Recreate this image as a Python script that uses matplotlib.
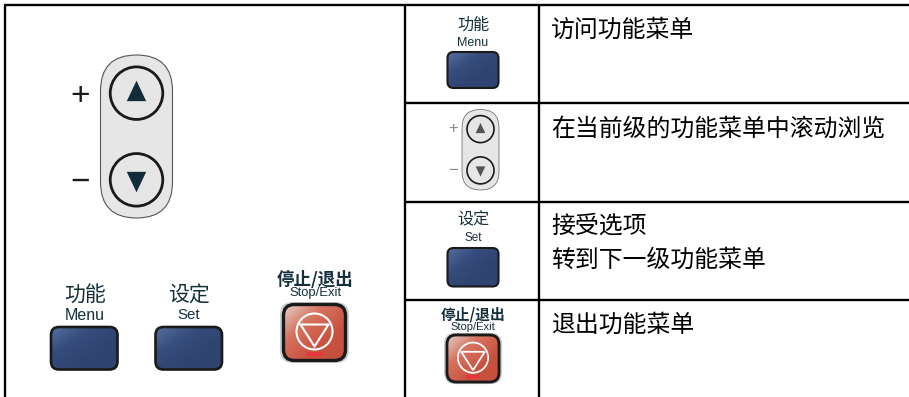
import matplotlib
matplotlib.use("Agg")
import matplotlib.pyplot as plt
from matplotlib.patches import FancyBboxPatch, Circle, Polygon
from matplotlib.colors import LinearSegmentedColormap
import numpy as np

plt.rcParams['font.family'] = ['Noto Sans CJK SC', 'DejaVu Sans']

# --- TEXT ---
col_desc = ["访问功能菜单", "在当前级的功能菜单中滚动浏览", "接受选项", "转到下一级功能菜单", "退出功能菜单"]
menu_zh, menu_en = "功能", "Menu"
set_zh, set_en = "设定", "Set"
stop_zh, stop_en = "停止/退出", "Stop/Exit"

# table lines, in pixels
v_lines = [4.7, 405, 539]
h_lines = [103, 202, 300]
top, bottom = 5, 397

fig = plt.figure(figsize=(9.09, 3.97), dpi=100)
ax = fig.add_axes([0, 0, 1, 1])
ax.set_xlim(0, 909)
ax.set_ylim(397, 0)
ax.axis("off")

ink = "#1a1a1a"
navy = LinearSegmentedColormap.from_list("navy", ["#56709f", "#364c7c", "#2f4470", "#2f4470"])
red = LinearSegmentedColormap.from_list("red", ["#e6d2cc", "#d6735f", "#c9523f", "#c4503c"])


def rbox(x0, y0, x1, y1, r, **kw):
    p = FancyBboxPatch((x0 + r, y0 + r), x1 - x0 - 2 * r, y1 - y0 - 2 * r,
                       boxstyle=f"round,pad={r},rounding_size={r}", **kw)
    ax.add_patch(p)
    return p


def grad_box(x0, y0, x1, y1, r, cmap, lw):
    # diagonal gradient clipped to a rounded box
    p = rbox(x0, y0, x1, y1, r, fc="none", ec=ink, lw=lw, zorder=3)
    g = np.linspace(0, 1, 60)
    xx, yy = np.meshgrid(g, g)
    im = ax.imshow((xx + yy) / 2, extent=(x0, x1, y1, y0), cmap=cmap, aspect="auto",
                   vmin=0, vmax=1, zorder=2)
    im.set_clip_path(p)
    ax.set_xlim(0, 909)
    ax.set_ylim(397, 0)


def updown(cx, y0, y1, w, scale, lw, tri):
    # the grey pill with two round arrow keys
    rbox(cx - w / 2, y0, cx + w / 2, y1, w / 2, fc="#e6e6e6", ec="#555555", lw=lw * 0.4, zorder=2)
    r = w * 0.365
    cu, cd = y0 + w * 0.53, y1 - w * 0.53
    for cy, d in [(cu, -1), (cd, 1)]:
        ax.add_patch(Circle((cx, cy), r, fc="#e6e6e6", ec=ink, lw=lw, zorder=3))
        ax.add_patch(Polygon([(cx - 9.7 * scale, cy - d * 8 * scale),
                              (cx + 9.7 * scale, cy - d * 8 * scale),
                              (cx, cy + d * 12.5 * scale)],
                             fc=tri, ec="none", zorder=4))


def stop_key(cx, cy, scale):
    rbox(cx - 34.5 * scale, cy - 30.5 * scale, cx + 34.5 * scale, cy + 30.5 * scale, 13 * scale,
         fc="#c9ced0", ec="none", zorder=1)
    grad_box(cx - 31 * scale, cy - 28 * scale, cx + 31 * scale, cy + 28 * scale,
             11 * scale, red, 2.2 * scale + 0.2)
    ax.add_patch(Circle((cx, cy - 1 * scale), 18 * scale, fc="none", ec="white", lw=1.5 * scale, zorder=4))
    ax.add_patch(Polygon([(cx - 14 * scale, cy - 8 * scale), (cx + 14 * scale, cy - 8 * scale),
                          (cx, cy + 14 * scale)], fc="none", ec="white", lw=1.5 * scale, zorder=4))
    rbox(cx - 8.5 * scale, cy + 20 * scale, cx + 8.5 * scale, cy + 23.5 * scale, 1.7 * scale,
         fc="#e8323c", ec="none", zorder=4)


def zh(x, y, s, size, **kw):
    ax.text(x, y, s, fontsize=size, ha="center", va="center", color="#14303c", zorder=5, **kw)


def en(x, y, s, size):
    ax.text(x, y, s, fontsize=size, ha="center", va="center", color="#14303c", zorder=5,
            family="Liberation Sans")


# --- TABLE LINES ---
for x in v_lines:
    ax.plot([x, x], [top, bottom], color="black", lw=1.7, solid_capstyle="butt", zorder=6)
for y in h_lines:
    ax.plot([405, 909], [y, y], color="black", lw=1.7, solid_capstyle="butt", zorder=6)
ax.plot([3.5, 909], [5, 5], color="black", lw=1.7, solid_capstyle="butt", zorder=6)

# --- LEFT PANEL ---
updown(136.5, 55, 218, 72, 1.0, 2.0, "#122c3a")
ax.text(80, 96, "+", fontsize=24, ha="center", va="center", color=ink, family="Liberation Sans")
ax.text(80, 182, "−", fontsize=24, ha="center", va="center", color=ink, family="Liberation Sans")

zh(85, 295.5, menu_zh, 15)
en(84.5, 315.5, menu_en, 11.5)
grad_box(51, 327, 117.5, 369.5, 8, navy, 1.9)
zh(189, 295.5, set_zh, 15)
en(189, 315, set_en, 10.8)
grad_box(155.5, 327, 222, 369.5, 8, navy, 1.9)
zh(315, 279.5, stop_zh, 12.6, fontweight="bold")
en(315, 293, stop_en, 9.4)
stop_key(314.5, 332.5, 1.0)

# --- MIDDLE COLUMN ---
zh(474, 25.5, menu_zh, 11.6)
en(473, 43, menu_en, 9)
grad_box(447.5, 52, 498.5, 88, 6, navy, 1.5)
updown(480.5, 109.5, 190, 37, 0.5, 1.2, "#555555")
ax.text(453, 129, "+", fontsize=12, ha="center", va="center", color="#888888", family="Liberation Sans")
ax.text(453, 171, "−", fontsize=12, ha="center", va="center", color="#888888", family="Liberation Sans")
zh(473, 219.5, set_zh, 11.6)
en(473, 238, set_en, 8.4)
grad_box(447.5, 248, 498.5, 286.5, 6, navy, 1.5)
zh(473, 314.5, stop_zh, 10.6, fontweight="bold")
en(473, 326.5, stop_en, 8)
stop_key(473, 358.5, 0.84)

# --- DESCRIPTIONS ---
desc_pos = [(551, 30), (551, 129.5), (551, 226), (551, 260), (551, 325)]
for (x, y), s in zip(desc_pos, col_desc):
    ax.text(x, y, s, fontsize=17.2, ha="left", va="center", color="black")

fig.savefig("out.png", dpi=100)
